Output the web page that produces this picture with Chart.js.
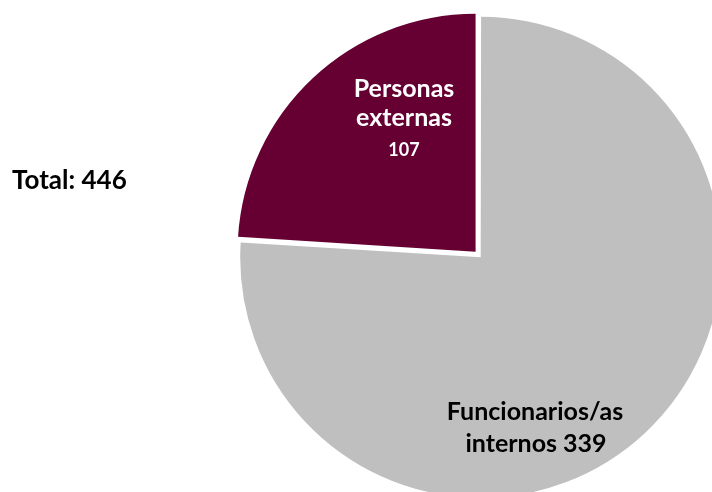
<!DOCTYPE html>
<html>
<head>
<meta charset="utf-8">
<script src="https://cdn.jsdelivr.net/npm/chart.js@4.4.0/dist/chart.umd.min.js"></script>
<style>
  html, body { margin: 0; padding: 0; background: #fff; }
  #wrap { width: 712px; height: 492px; }
</style>
</head>
<body>
<div id="wrap"><canvas id="pieChart" width="712" height="492"></canvas></div>
<script>
// data
var categories = ['Funcionarios/as internos', 'Personas externas'];
var values = [339, 107];
var colors = ['#BFBFBF', '#660033'];

var total = values.reduce(function (a, b) { return a + b; }, 0);

// text lines drawn inside each slice
var sliceText = [
    ['Funcionarios/as', 'internos ' + values[0]],
    ['Personas', 'externas', String(values[1])]
];

var FONT = 'Lato, "Open Sans", sans-serif';

// places the labels relative to the centre of the pie
var labelPlugin = {
    id: 'sliceLabels',
    afterDatasetsDraw: function (chart) {
        var ctx = chart.ctx;
        var arcs = chart.getDatasetMeta(0).data;
        ctx.save();
        ctx.textAlign = 'center';
        ctx.textBaseline = 'alphabetic';

        // gray slice
        var a = arcs[0];
        ctx.fillStyle = '#000';
        ctx.font = 'bold 25px ' + FONT;
        ctx.fillText(sliceText[0][0], a.x + 56, a.y + 164.5);
        ctx.fillText(sliceText[0][1], a.x + 57, a.y + 196.5);

        // maroon slice
        var b = arcs[1];
        ctx.fillStyle = '#fff';
        ctx.font = 'bold 25px ' + FONT;
        ctx.fillText(sliceText[1][0], b.x - 75, b.y - 159);
        ctx.fillText(sliceText[1][1], b.x - 75, b.y - 129.5);
        ctx.font = 'bold 18px ' + FONT;
        ctx.fillText(sliceText[1][2], b.x - 75, b.y - 99.5);

        // total on the left
        ctx.textAlign = 'left';
        ctx.fillStyle = '#000';
        ctx.font = 'bold 26px ' + FONT;
        ctx.fillText('Total: ' + total, 12, 189);
        ctx.restore();
    }
};

var ctx = document.getElementById('pieChart');
var chart = new Chart(ctx, {
    type: 'pie',
    data: {
        labels: categories,
        datasets: [{
            data: values,
            backgroundColor: colors,
            borderWidth: 0,
            offset: [10, 20],
            radius: 238,
            clip: false
        }]
    },
    options: {
        responsive: false,
        animation: false,
        layout: {
            padding: { left: 246, top: 19, right: 0, bottom: 0 }
        },
        plugins: {
            legend: { display: false },
            tooltip: { enabled: false }
        }
    },
    plugins: [labelPlugin]
});
</script>
</body>
</html>
